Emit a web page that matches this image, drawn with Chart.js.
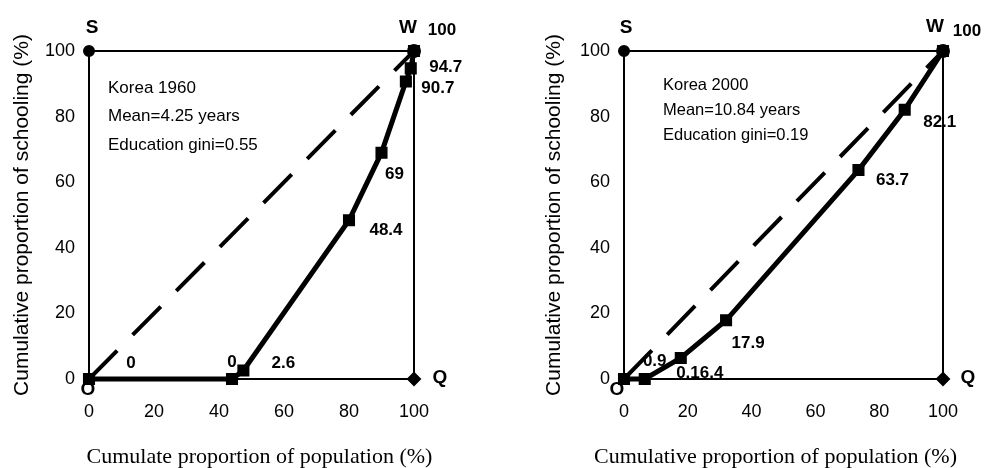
<!DOCTYPE html>
<html>
<head>
<meta charset="utf-8">
<script src="https://cdn.jsdelivr.net/npm/chart.js@4.4.0/dist/chart.umd.min.js"></script>
<style>
html, body { margin: 0; padding: 0; background: #fff; }
#wrap { display: flex; width: 992px; height: 468px; }
.box { position: relative; width: 496px; height: 468px; }
</style>
</head>
<body>
<div id="wrap">
  <div class="box"><canvas id="c1"></canvas></div>
  <div class="box"><canvas id="c2"></canvas></div>
</div>
<script>
var tickValues = [0, 20, 40, 60, 80, 100];

var pop1960 = [0, 44, 47.5, 80, 90, 97.5, 99, 100];
var school1960 = [0, 0, 2.6, 48.4, 69, 90.7, 94.7, 100];
var labels1960 = ['0', '0', '2.6', '48.4', '69', '90.7', '94.7', ''];
var info1960 = ['Korea 1960', 'Mean=4.25 years', 'Education gini=0.55'];

var pop2000 = [0, 6.5, 17.8, 32, 73.5, 88, 100];
var school2000 = [0, 0, 6.4, 17.9, 63.7, 82.1, 100];
var labels2000 = ['', '0.9', '0.16.4', '17.9', '63.7', '82.1', ''];
var info2000 = ['Korea 2000', 'Mean=10.84 years', 'Education gini=0.19'];

var equalX = [0, 100];
var equalY = [0, 100];
var cornerX = [0, 100, 100];
var cornerY = [100, 100, 0];
var cornerNames = ['S', 'W', 'Q'];
var cornerTop = '100';
var originName = 'O';

var yTitle = 'Cumulative proportion of schooling (%)';
var xTitle1960 = 'Cumulate proportion of population (%)';
var xTitle2000 = 'Cumulative proportion of population (%)';

var SANS = '"Liberation Sans", Arial, sans-serif';
var SERIF = '"Liberation Serif", "Times New Roman", serif';

function pts(xs, ys) {
    return xs.map(function (x, i) { return { x: x, y: ys[i] }; });
}

var annotate = {
    id: 'annotate',
    afterDatasetsDraw: function (chart) {
        var o = chart.options.plugins.annotate;
        var ctx = chart.ctx;
        var area = chart.chartArea;
        ctx.save();
        ctx.fillStyle = '#000';
        ctx.textAlign = 'center';
        ctx.textBaseline = 'middle';

        // value labels on the lorenz curve
        ctx.font = 'bold 17px ' + SANS;
        var lorenz = chart.getDatasetMeta(2).data;
        o.labels.forEach(function (t, i) {
            if (!t) return;
            var off = o.offsets[i];
            ctx.fillText(t, lorenz[i].x + off[0], lorenz[i].y + off[1]);
        });

        // corner letters
        var corners = chart.getDatasetMeta(0).data;
        ctx.font = 'bold 19px ' + SANS;
        cornerNames.forEach(function (n, i) {
            var off = o.cornerOffsets[i];
            ctx.fillText(n, corners[i].x + off[0], corners[i].y + off[1]);
        });
        var xs = chart.scales.x, ys = chart.scales.y;
        ctx.fillText(originName, xs.getPixelForValue(0) + o.originOffset[0], ys.getPixelForValue(0) + o.originOffset[1]);
        ctx.font = 'bold 17px ' + SANS;
        ctx.fillText(cornerTop, corners[1].x + o.topOffset[0], corners[1].y + o.topOffset[1]);

        // x axis title
        ctx.font = '22px ' + SERIF;
        ctx.fillText(o.xTitle, (area.left + area.right) / 2 + o.xTitleShift, o.xTitleY);

        // info block
        ctx.textAlign = 'left';
        ctx.font = o.infoFont;
        o.info.forEach(function (t, i) {
            ctx.fillText(t, area.left + o.infoX, area.top + o.infoY + i * o.infoGap);
        });
        ctx.restore();
    }
};

function makeChart(id, xs, ys, labels, info, xTitle, opt) {
    var ctx = document.getElementById(id).getContext('2d');
    return new Chart(ctx, {
        type: 'line',
        data: {
            datasets: [{
                data: pts(cornerX, cornerY),
                borderColor: '#000',
                backgroundColor: '#000',
                borderWidth: 2,
                pointStyle: ['circle', 'circle', 'rectRot'],
                pointRadius: [5, 6, 6],
                clip: false
            }, {
                data: pts(equalX, equalY),
                borderColor: '#000',
                borderWidth: 4,
                borderDash: [40, 22],
                pointRadius: 0,
                clip: false
            }, {
                data: pts(xs, ys),
                borderColor: '#000',
                backgroundColor: '#000',
                borderWidth: 5,
                pointStyle: 'rect',
                pointRadius: 5,
                clip: false
            }]
        },
        options: {
            responsive: false,
            animation: false,
            layout: { padding: { left: opt.padLeft, right: opt.padRight, top: 51, bottom: 0 } },
            plugins: {
                legend: { display: false },
                tooltip: { enabled: false },
                annotate: {
                    labels: labels,
                    offsets: opt.offsets,
                    cornerOffsets: opt.cornerOffsets,
                    topOffset: opt.topOffset,
                    originOffset: opt.originOffset,
                    xTitle: xTitle,
                    xTitleShift: opt.xTitleShift,
                    xTitleY: 457,
                    info: info,
                    infoFont: opt.infoFont,
                    infoX: opt.infoX,
                    infoY: opt.infoY,
                    infoGap: opt.infoGap
                }
            },
            scales: {
                x: {
                    type: 'linear',
                    min: 0,
                    max: 100,
                    afterBuildTicks: function (s) { s.ticks = tickValues.map(function (v) { return { value: v }; }); },
                    afterFit: function (s) { s.height = 89; },
                    grid: { display: false, drawTicks: false },
                    border: { display: true, color: '#000', width: 2 },
                    ticks: { color: '#000', padding: 22, maxRotation: 0, font: { family: SANS, size: 18 } }
                },
                y: {
                    type: 'linear',
                    min: 0,
                    max: 100,
                    afterBuildTicks: function (s) { s.ticks = tickValues.map(function (v) { return { value: v }; }); },
                    afterFit: function (s) { s.width = opt.yWidth; },
                    grid: { display: false, drawTicks: false },
                    border: { display: true, color: '#000', width: 2 },
                    ticks: { color: '#000', padding: 14, font: { family: SANS, size: 18 } },
                    title: {
                        display: true,
                        text: yTitle,
                        color: '#000',
                        padding: { top: 10, bottom: 0 },
                        font: { family: SANS, size: 21 }
                    }
                }
            }
        },
        plugins: [annotate]
    });
}

var c1 = document.getElementById('c1'); c1.width = 496; c1.height = 468;
var c2 = document.getElementById('c2'); c2.width = 496; c2.height = 468;

makeChart('c1', pop1960, school1960, labels1960, info1960, xTitle1960, {
    padLeft: 0, padRight: 82, yWidth: 89,
    offsets: [[42, -16], [0, -17], [40, -7], [37, 10], [13, 22], [32, 7], [35, -1], [0, 0]],
    cornerOffsets: [[3, -23], [-6, -23], [26, -1]],
    topOffset: [28, -21],
    originOffset: [-1, 11],
    xTitleShift: 8,
    infoFont: '17px ' + SANS,
    infoX: 19, infoY: 37, infoGap: 28.5
});

makeChart('c2', pop2000, school2000, labels2000, info2000, xTitle2000, {
    padLeft: 36, padRight: 49, yWidth: 92,
    offsets: [[0, 0], [10, -18], [19, 15], [22, 23], [34, 10], [35, 13], [0, 0]],
    cornerOffsets: [[2, -23], [-8, -24], [25, -1]],
    topOffset: [24, -20],
    originOffset: [-7, 11],
    xTitleShift: -8,
    infoFont: '16.5px ' + SANS,
    infoX: 39, infoY: 34, infoGap: 25
});
</script>
</body>
</html>
